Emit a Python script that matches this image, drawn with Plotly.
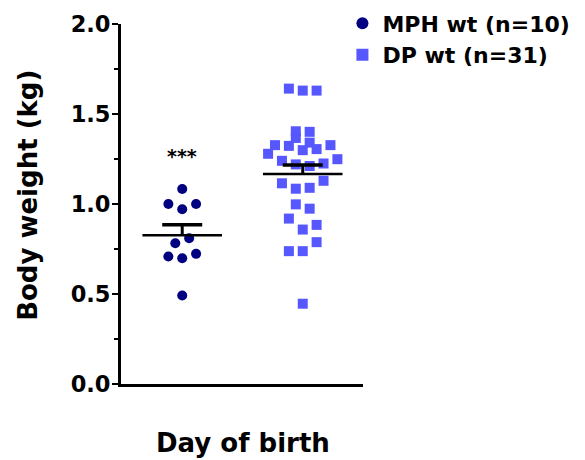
import numpy as np
import plotly.graph_objects as go

# ---- data ----
groups = ["MPH wt (n=10)", "DP wt (n=31)"]
group_pos = [1, 2]
mph_values = [1.083, 1.00, 1.00, 0.971, 0.81, 0.782, 0.708, 0.699, 0.723, 0.492]
mph_slots = [0, -2, 2, 0, 1, -1, -2, 0, 2, 0]
dp_values = [1.641, 1.630, 1.630, 1.404, 1.401, 1.367, 1.327, 1.323, 1.341, 1.327,
             1.279, 1.299, 1.305, 1.249, 1.240, 1.220, 1.211, 1.225, 1.115, 1.085,
             1.090, 1.129, 0.998, 0.974, 0.919, 0.858, 0.884, 0.788, 0.738, 0.738,
             0.446]
dp_slots = [-2, 0, 2, -1, 1, -1, -4, -2, 1, 4,
            -5, 0, 2, 5, -3, -1, 1, 3, -3, -1,
            1, 3, -1, 1, -2, 0, 2, 2, -2, 0,
            0]
y_ticks = [0.0, 0.5, 1.0, 1.5, 2.0]
signif_text = "***"

# ---- style ----
FONT = "DejaVu Sans"
SLOT_W = 0.0575
MEAN_HW = 0.33
CAP_HW = 0.166
colors = ["#000080", "#5757ff"]
symbols = ["circle", "square"]

fig = go.Figure()
all_vals = [mph_values, dp_values]
all_slots = [mph_slots, dp_slots]

for i, (vals, slots) in enumerate(zip(all_vals, all_slots)):
    xs = [group_pos[i] + s * SLOT_W for s in slots]
    fig.add_trace(go.Scatter(
        x=xs, y=vals, mode="markers", name=groups[i],
        marker=dict(color=colors[i], symbol=symbols[i], size=10, line=dict(width=0)),
    ))

for i, vals in enumerate(all_vals):
    v = np.array(vals)
    m = v.mean()
    sem = v.std(ddof=1) / np.sqrt(len(v))
    c = group_pos[i]
    # mean line
    fig.add_trace(go.Scatter(x=[c - MEAN_HW, c + MEAN_HW], y=[m, m], mode="lines",
                             line=dict(color="black", width=2.5), showlegend=False,
                             hoverinfo="skip"))
    # SEM stem
    fig.add_trace(go.Scatter(x=[c, c], y=[m, m + sem], mode="lines",
                             line=dict(color="black", width=3), showlegend=False,
                             hoverinfo="skip"))
    # SEM cap
    fig.add_trace(go.Scatter(x=[c - CAP_HW, c + CAP_HW], y=[m + sem, m + sem], mode="lines",
                             line=dict(color="black", width=3.5), showlegend=False,
                             hoverinfo="skip"))

fig.add_annotation(x=group_pos[0], y=1.265, xref="x", yref="y", text=signif_text,
                   showarrow=False, font=dict(family=FONT, size=19, color="black", weight="bold"),
                   xanchor="center", yanchor="middle")

fig.add_annotation(x=-0.385, y=0.525, xref="paper", yref="paper", text="Body weight (kg)",
                   textangle=-90, showarrow=False, xanchor="center", yanchor="middle",
                   font=dict(family=FONT, size=26, color="black", weight="bold"))
fig.add_annotation(x=0.503, y=-0.164, xref="paper", yref="paper", text="Day of birth",
                   showarrow=False, xanchor="center", yanchor="middle",
                   font=dict(family=FONT, size=26, color="black", weight="bold"))

fig.update_layout(
    width=585, height=460,
    margin=dict(l=121, r=222, t=24, b=76, autoexpand=False),
    paper_bgcolor="white", plot_bgcolor="white",
    showlegend=True,
    legend=dict(x=0.915, y=1.06, xanchor="left", yanchor="top",
                font=dict(family=FONT, size=22, color="black", weight="bold"),
                bgcolor="rgba(0,0,0,0)", tracegroupgap=0, itemsizing="constant"),
    xaxis=dict(range=[0.492, 2.5], showgrid=False, zeroline=False, showticklabels=False,
               ticks="", showline=True, linecolor="black", linewidth=3, fixedrange=True),
    yaxis=dict(range=[0, 2.0], showgrid=False, zeroline=False, tickvals=y_ticks,
               ticktext=[f"{t:.1f}" for t in y_ticks],
               ticks="outside", ticklen=6, tickwidth=2, tickcolor="black",
               ticklabelstandoff=-3,
               showline=True, linecolor="black", linewidth=3,
               tickfont=dict(family=FONT, size=22.5, color="black", weight="bold"),
               minor=dict(dtick=0.25, ticks="outside", ticklen=4, tickwidth=2, tickcolor="black"),
               fixedrange=True),
)

fig.write_html("out.html")
